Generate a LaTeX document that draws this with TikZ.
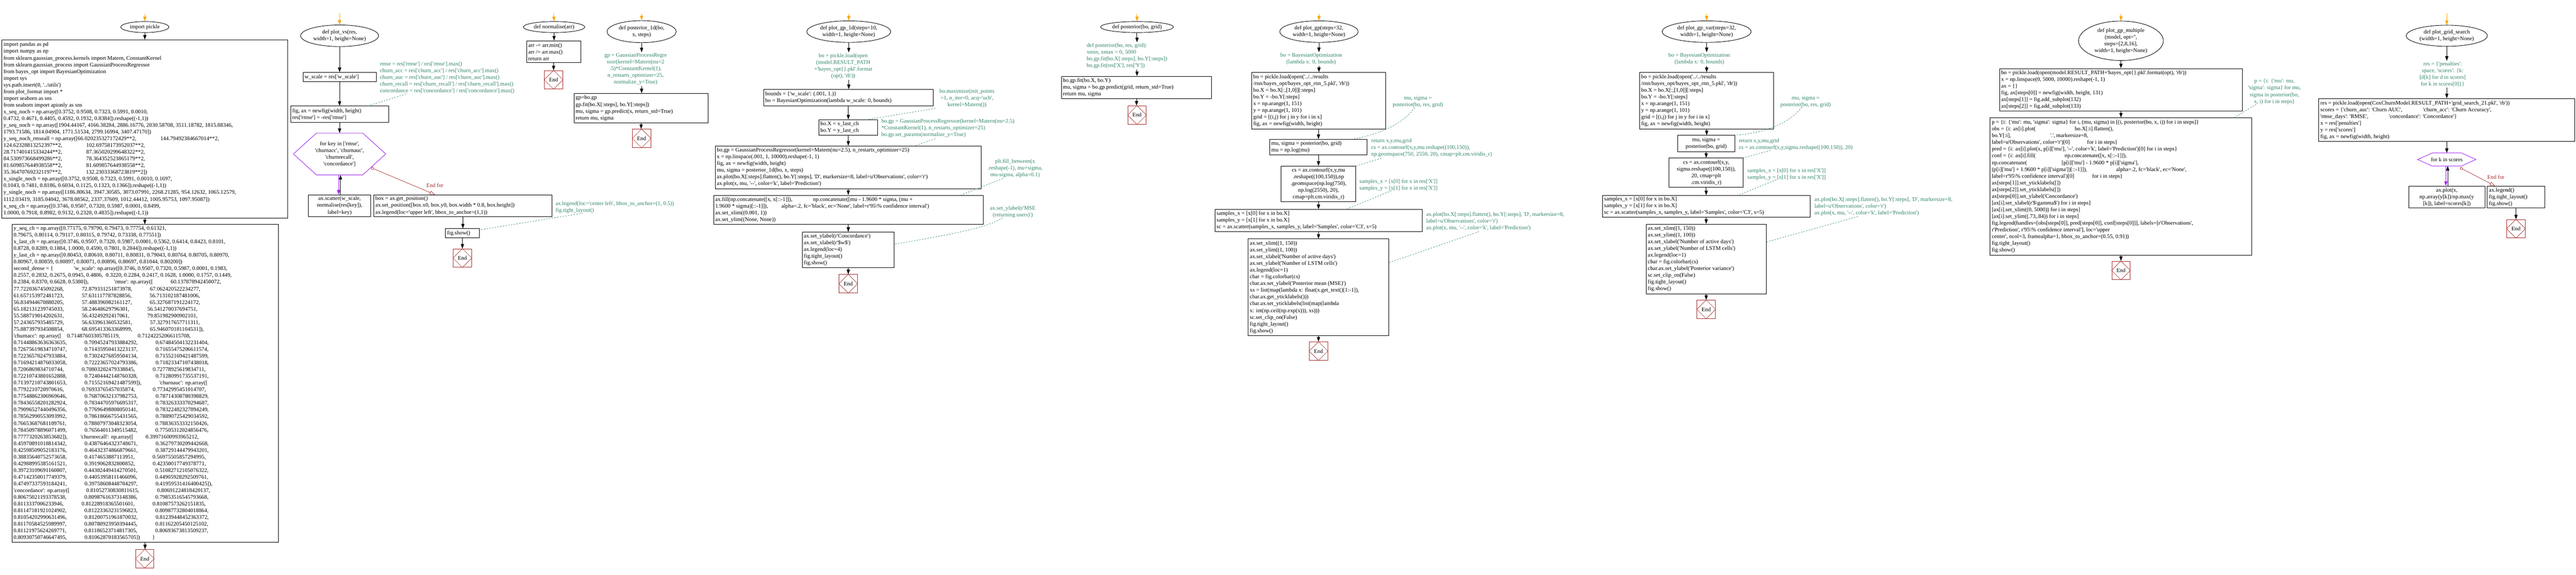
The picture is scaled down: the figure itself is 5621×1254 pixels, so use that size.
\documentclass[tikz,border=0pt]{standalone}
\usepackage{fontspec}
\setmainfont{Liberation Serif}[Ligatures=TeXOff]
\usetikzlibrary{arrows.meta,shapes.geometric,calc}
\definecolor{cmtc}{RGB}{50,135,100}
\definecolor{loopc}{RGB}{160,32,240}
\definecolor{endc}{RGB}{165,42,42}
\definecolor{startc}{RGB}{255,165,0}
\newcommand{\gapx}[1]{\hspace*{#1em}}
\tikzset{
  base/.style={font=\fontsize{12.2pt}{14.67pt}\selectfont},
  bx/.style={draw, rectangle, line width=1pt, inner sep=0pt},
  txt/.style={base, align=left, inner sep=0pt},
  ctxt/.style={base, text=cmtc, inner sep=2pt},
  tip/.style={-{Triangle[length=10pt,width=7pt]}, line width=1pt},
  looptip/.style={loopc, -{Triangle[length=10pt,width=7pt]}, line width=1pt},
  starttip/.style={startc, -{Triangle[length=10pt,width=7pt]}, line width=1pt},
  cl/.style={cmtc, dashed, line width=0.8pt},
  efl/.style={endc, line width=0.8pt, {Circle[open,length=6pt]}-{Triangle[open,length=11pt,width=8pt]}},
}
\newcommand{\boxL}[6]{%
  \node[bx, minimum width=#4pt, minimum height=#5pt] (#1) at (#2,#3) {};
  \node[txt, anchor=west] at ($(#1.west)+(4,0)$) {#6};}
\newcommand{\boxC}[6]{%
  \node[bx, minimum width=#4pt, minimum height=#5pt] (#1) at (#2,#3) {};
  \node[txt, align=center] at (#1.center) {#6};}
\newcommand{\ellN}[6]{%
  \node[draw, ellipse, line width=1pt, inner sep=0pt, minimum width=#4pt, minimum height=#5pt] (#1) at (#2,#3) {};
  \node[txt, align=center] at (#1.center) {#6};}
\newcommand{\hexN}[6]{%
  \node[inner sep=0pt, minimum width=#4pt, minimum height=#5pt] (#1) at (#2,#3) {};
  \draw[loopc, line width=1pt] (#1.west) -- ($(#1.north west)+(#4/4,0)$) -- ($(#1.north east)-(#4/4,0)$) -- (#1.east) -- ($(#1.south east)-(#4/4,0)$) -- ($(#1.south west)+(#4/4,0)$) -- cycle;
  \node[txt, align=center] at (#1.center) {#6};}
\newcommand{\finN}[3]{%
  \node[draw=endc, line width=1pt, inner sep=0pt, minimum width=40pt, minimum height=40pt, base] (#1) at (#2,#3) {End};
  \draw[endc, line width=0.7pt] (#1.north) -- (#1.west) -- (#1.south) -- (#1.east) -- cycle;}
\newcommand{\edg}[2]{\draw[tip] (#1.south) -- (#1.south |- #2.north);}
\newcommand{\edgc}[3]{\draw[tip] (#1.south |- #2.south) -- (#1.south |- #3.north);}
\begin{document}
\begin{tikzpicture}[x=1pt,y=-1pt]
\fill[white] (0,0) rectangle (5621,1254);
\useasboundingbox (0,0) rectangle (5621,1254);

% ---------------- column 1
\ellN{ell0}{316}{59}{105}{24}{import pickle}
\boxL{b01}{316}{281.5}{624}{389}{import pandas as pd\\
import numpy as np\\
from sklearn.gaussian\_process.kernels import Matern, ConstantKernel\\
from sklearn.gaussian\_process import GaussianProcessRegressor\\
from bayes\_opt import BayesianOptimization\\
import sys\\
sys.path.insert(0, '../utils')\\
from plot\_format import *\\
import seaborn as sns\\
from seaborn import apionly as sns\\
x\_seq\_noch = np.array([0.3752, 0.9508, 0.7323, 0.5991, 0.0010,\\
0.4732, 0.4671, 0.4405, 0.4592, 0.1932, 0.8384]).reshape((-1,1))\\
y\_seq\_noch = np.array([1904.44167, 4166.38284, 2886.16776, 2030.58708, 3511.18782, 1815.88346,\\
1793.71586, 1814.04904, 1771.51534, 2799.16994, 3407.47170])\\
y\_seq\_noch\_rmseall = np.array([66.020235327172429**2,\gapx{4.3}144.79492384667014**2,\\
124.62328813252397**2,\gapx{4.3}102.69758173952037**2,\\
28.717401415334244**2,\gapx{4.3}87.365020299648322**2,\\
84.530973668499286**2,\gapx{4.3}78.364352523865179**2,\\
81.609857644938558**2,\gapx{4.3}81.609857644938558**2,\\
35.364707692321197**2,\gapx{4.3}132.23033368723819**2])\\
x\_single\_noch = np.array([0.3752, 0.9508, 0.7323, 0.5991, 0.0010, 0.1697,\\
0.1043, 0.7481, 0.8186, 0.6034, 0.1125, 0.1323, 0.1366]).reshape((-1,1))\\
y\_single\_noch = np.array([1186.80634, 3947.30585, 3073.07991, 2268.21285, 954.12632, 1065.12579,\\
1112.03419, 3185.04042, 3678.08562, 2337.37609, 1012.44412, 1005.95753, 1097.95087])\\
x\_seq\_ch = np.array([0.3746, 0.9507, 0.7320, 0.5987, 0.0001, 0.8499,\\
1.0000, 0.7918, 0.8982, 0.9132, 0.2320, 0.4835]).reshape((-1,1))}
\boxL{b02}{316.5}{836.5}{581}{693}{y\_seq\_ch = np.array([0.77175, 0.79790, 0.79473, 0.77754, 0.61321,\\
0.79675, 0.80114, 0.79117, 0.80315, 0.79742, 0.73338, 0.77551])\\
x\_last\_ch = np.array([0.3746, 0.9507, 0.7320, 0.5987, 0.0001, 0.5362, 0.6414, 0.8423, 0.8101,\\
0.8728, 0.8289, 0.1884, 1.0000, 0.4590, 0.7801, 0.2844]).reshape((-1,1))\\
y\_last\_ch = np.array([0.80453, 0.80610, 0.80711, 0.80831, 0.79043, 0.80764, 0.80705, 0.80970,\\
0.80967, 0.80859, 0.80897, 0.80071, 0.80896, 0.80697, 0.81044, 0.80200])\\
second\_dense = \{\gapx{3.7}'w\_scale': np.array([0.3746, 0.9507, 0.7320, 0.5987, 0.0001, 0.1983,\\
0.2557, 0.2832, 0.2675, 0.0945, 0.4806, \ 0.3220, 0.2284, 0.2417, 0.1628, 1.0000, 0.1757, 0.1449,\\
0.2384, 0.8370, 0.6628, 0.5380]),\gapx{4.6}'rmse': np.array([\gapx{3.2}60.137878942450072,\\
77.722036745092268,\gapx{3.2}72.879331251873978,\gapx{3.2}67.062420522234277,\\
61.657153972481723,\gapx{3.2}57.631117787828856,\gapx{3.2}56.713102187481006,\\
56.834944670880205,\gapx{3.2}57.488396982161127,\gapx{3.2}65.327687191224172,\\
65.182131239745033,\gapx{3.2}58.24648629796301,\gapx{3.2}56.541270037694751,\\
55.588719014202631,\gapx{3.2}56.43249292417061,\gapx{3.2}79.851982900902101,\\
57.243657935485729,\gapx{3.2}56.633961360532581,\gapx{3.2}57.327917657711311,\\
75.887397934508854,\gapx{3.2}68.695413363368999,\gapx{3.2}65.946070181104531]),\\
'churnacc': np.array([\gapx{1}0.71487603305785119,\gapx{3.2}0.71242252066115708,\\
0.71448863636363635,\gapx{3.2}0.70945247933884292,\gapx{3.2}0.67484504132231404,\\
0.72675619834710747,\gapx{3.2}0.71435950413223137,\gapx{3.2}0.71655475206611574,\\
0.72236570247933884,\gapx{3.2}0.73024276859504134,\gapx{3.2}0.71552169421487599,\\
0.71694214876033058,\gapx{3.2}0.72223657024793386,\gapx{3.2}0.71823347107438018,\\
0.7206869834710744,\gapx{3.2}0.70803202479338845,\gapx{3.2}0.72778925619834711,\\
0.72210743801652888,\gapx{3.2}0.72404442148760328,\gapx{3.2}0.71280991735537191,\\
0.71397210743801653,\gapx{3.2}0.71552169421487599]),\gapx{3.2}'churnauc': np.array([\\
0.7792210720970616,\gapx{3.2}0.76933765457035874,\gapx{3.2}0.77342995451014707,\\
0.77548862306969646,\gapx{3.2}0.76870632137982753,\gapx{3.2}0.78714308780398829,\\
0.78436558201282924,\gapx{3.2}0.78344705976695317,\gapx{3.2}0.78326333370294687,\\
0.79096527440496356,\gapx{3.2}0.77696498808050141,\gapx{3.2}0.78322482327894249,\\
0.78562990553093992,\gapx{3.2}0.78618666755431565,\gapx{3.2}0.78890725429034592,\\
0.76653687681109761,\gapx{3.2}0.78807973048323054,\gapx{3.2}0.78836353332150426,\\
0.78450978896071499,\gapx{3.2}0.76564011349515482,\gapx{3.2}0.77505312024856476,\\
0.7777320263853682]),\gapx{2.3}'churnrecall': np.array([\gapx{2.2}0.39971600993965212,\\
0.45970891018814342,\gapx{3.2}0.43876464323748671,\gapx{3.2}0.36279730209442668,\\
0.42598509052183176,\gapx{3.2}0.46432374866879661,\gapx{3.2}0.38729144479943201,\\
0.38835640752573658,\gapx{3.2}0.4174653887113951,\gapx{3.2}0.56975505857294995,\\
0.42988995385161521,\gapx{3.2}0.3919062832800852,\gapx{3.2}0.42350017749378771,\\
0.39723109691160807,\gapx{3.2}0.44302449414270501,\gapx{3.2}0.51082712105076322,\\
0.47142350017749379,\gapx{3.2}0.44053958111466096,\gapx{3.2}0.44905928292509761,\\
0.47497337593184241,\gapx{3.2}0.39758608448704297,\gapx{3.2}0.41959531416400425]),\\
'concordance': np.array([\gapx{3}0.81052730830811615,\gapx{3.2}0.80691224818420137,\\
0.80675021193378538,\gapx{3.2}0.80987616373148386,\gapx{3.2}0.79853516545793668,\\
0.8113337006233946,\gapx{3.2}0.81228918365501601,\gapx{3.2}0.81087573262151835,\\
0.81147181921024902,\gapx{3.2}0.81223363231596823,\gapx{3.2}0.80987732804018864,\\
0.81054202990631496,\gapx{3.2}0.81200751961870032,\gapx{3.2}0.81239448452363372,\\
0.81170584525989997,\gapx{3.2}0.80780923950394445,\gapx{3.2}0.81162205450125102,\\
0.81121975624269771,\gapx{3.2}0.81186523714817305,\gapx{3.2}0.80693673813509237,\\
0.80930750746647495,\gapx{3.2}0.81062870183565705])\gapx{2.2}\}}
\finN{end0}{316}{1219}
\coordinate (st0) at (316,30);
\draw[starttip] (st0) -- (ell0.north);
\edg{ell0}{b01}
\edg{b01}{b02}
\edg{b02}{end0}

% ---------------- plot_vs
\ellN{ell1}{741}{78}{170}{47}{def plot\_vs(res,\\width=1, height=None)}
\boxL{bvs1}{741}{168}{160}{20}{w\_scale = res['w\_scale']}
\node[ctxt, anchor=west, align=left] (cvs1) at (827,170) {rmse = res['rmse'] / res['rmse'].max()\\churn\_acc = res['churn\_acc'] / res['churn\_acc'].max()\\churn\_auc = res['churn\_auc'] / res['churn\_auc'].max()\\churn\_recall = res['churn\_recall'] / res['churn\_recall'].max()\\concordance = res['concordance'] / res['concordance'].max()};
\boxL{bvs2}{741}{249}{214}{35}{fig, ax = newfig(width, height)\\res['rmse'] = -res['rmse']}
\hexN{hvs}{741}{336}{201}{91}{for key in ['rmse',\\'churnacc', 'churnauc',\\'churnrecall',\\'concordance']}
\boxC{bvs3}{741}{449}{136}{48}{ax.scatter(w\_scale,\\normalise(res[key]),\\label=key)}
\boxL{bvs4}{1010}{449}{389}{48}{box = ax.get\_position()\\ax.set\_position([box.x0, box.y0, box.width * 0.8, box.height])\\ax.legend(loc='upper left', bbox\_to\_anchor=(1,1))}
\boxL{bvs5}{1009}{509}{74}{20}{fig.show()}
\node[ctxt, anchor=west, align=left] (cvs2) at (1210,452) {ax.legend(loc='center left', bbox\_to\_anchor=(1, 0.5))\\fig.tight\_layout()};
\finN{endvs}{1009}{563}
\coordinate (st1) at (741,29);
\draw[starttip] (st1) -- (ell1.north);
\edg{ell1}{bvs1}
\edg{bvs1}{bvs2}
\edg{bvs2}{hvs}
\draw[looptip] ($(hvs.south)+(-2,0)$) -- ($(bvs3.north)+(-2,0)$);
\draw[tip] ($(bvs3.north)+(2,0)$) -- ($(hvs.south)+(2,0)$);
\draw[efl] ($(hvs.center)+(69,30)$) -- ($(bvs4.north west)+(134,0)$);
\node[base, text=endc, inner sep=1pt] (efvs) at (949,404) {End for};
\edg{bvs4}{bvs5}
\edg{bvs5}{endvs}
\draw[cl] ($(cvs1.south west)+(59,-2)$) -- ($(bvs2.north)+(62,0)$);
\draw[cl] ($(cvs2.south west)+(62,-2)$) -- ($(bvs5.north east)+(0,3)$);

% ---------------- normalise
\ellN{ell2}{1209}{59}{134}{24}{def normalise(arr)}
\boxL{bn1}{1208}{113}{118}{48}{arr -= arr.min()\\arr /= arr.max()\\return arr}
\finN{endn}{1208}{174}
\coordinate (st2) at (1208,30);
\draw[starttip] (st2) -- (ell2.north);
\edg{ell2}{bn1}
\edg{bn1}{endn}

% ---------------- posterior_1d
\ellN{ell3}{1400}{69}{151}{48}{def posterior\_1d(bo,\\x, steps)}
\node[ctxt, align=center] (cp1) at (1387,151) {gp = GaussianProcessRegre\\ssor(kernel=Matern(nu=2\\.5)*ConstantKernel(1),\\n\_restarts\_optimizer=25,\\normalize\_y=True)};
\boxL{bp1}{1399}{236}{293}{64}{gp=bo.gp\\gp.fit(bo.X[:steps], bo.Y[:steps])\\mu, sigma = gp.predict(x, return\_std=True)\\return mu, sigma}
\finN{endp1}{1400}{302}
\coordinate (st3) at (1400,30);
\draw[starttip] (st3) -- (ell3.north);
\edg{ell3}{cp1}
\edgc{ell3}{cp1}{bp1}
\edg{bp1}{endp1}

% ---------------- plot_gp_1d
\ellN{ell4}{1852}{69}{183}{47}{def plot\_gp\_1d(steps=10,\\width=1, height=None)}
\node[ctxt, align=center] (cg1) at (1840,144) {bo = pickle.load(open\\(model.RESULT\_PATH\\+'bayes\_opt\{\}.pkl'.format\\(opt), 'rb'))};
\boxL{bg1}{1851}{213}{370}{36}{bounds = \{'w\_scale': (.001, 1.)\}\\bo = BayesianOptimization(lambda w\_scale: 0, bounds)}
\node[ctxt, align=center] (cg2) at (2110,215) {bo.maximize(init\_points\\=1, n\_iter=0, acq='ucb',\\kernel=Matern())};
\boxL{bg2}{1851}{278}{129}{34}{bo.X = x\_last\_ch\\bo.Y = y\_last\_ch}
\node[ctxt, anchor=west, align=left] (cg3) at (1921,280) {bo.gp = GaussianProcessRegressor(kernel=Matern(nu=2.5)\\{}*ConstantKernel(1), n\_restarts\_optimizer=25)\\bo.gp.set\_params(normalize\_y=True)};
\boxL{bg3}{1851}{365}{581}{93}{bo.gp = GaussianProcessRegressor(kernel=Matern(nu=2.5), n\_restarts\_optimizer=25)\\x = np.linspace(.001, 1, 10000).reshape(-1, 1)\\fig, ax = newfig(width, height)\\mu, sigma = posterior\_1d(bo, x, steps)\\ax.plot(bo.X[:steps].flatten(), bo.Y[:steps], 'D', markersize=8, label=u'Observations', color='r')\\ax.plot(x, mu, '--', color='k', label='Prediction')}
\node[ctxt, align=center] (cg4) at (2215,367) {plt.fill\_between(x\\.reshape(-1), mu+sigma,\\mu-sigma, alpha=0.1)};
\boxL{bg4}{1851}{458}{588}{64}{ax.fill(np.concatenate([x, x[::-1]]),\gapx{3.7}np.concatenate([mu - 1.9600 * sigma, (mu +\\1.9600 * sigma)[::-1]]),\gapx{2.4}alpha=.2, fc='black', ec='None', label=r'95\textbackslash\% confidence interval')\\ax.set\_xlim((0.001, 1))\\ax.set\_ylim((None, None))}
\node[ctxt, align=center] (cg5) at (2210,463) {ax.set\_ylabel(r'MSE\\(returning users)')};
\boxL{bg5}{1851}{545}{201}{77}{ax.set\_ylabel(r'Concordance')\\ax.set\_xlabel(r'\$w\$')\\ax.legend(loc=4)\\fig.tight\_layout()\\fig.show()}
\finN{endg}{1851}{619}
\coordinate (st4) at (1852,30);
\draw[starttip] (st4) -- (ell4.north);
\edg{ell4}{cg1}
\edgc{ell4}{cg1}{bg1}
\edg{bg1}{bg2}
\edg{bg2}{bg3}
\edg{bg3}{bg4}
\edg{bg4}{bg5}
\edg{bg5}{endg}
\draw[cl] ($(cg2.south)+(-69,-1)$) -- ($(bg2.north)+(44,0)$);
\draw[cl] ($(cg3.south west)+(120,0)$) -- ($(bg3.north)+(146,0)$);
\draw[cl] ($(cg4.south)+(-27,0)$) -- ($(bg4.north)+(246,0)$);
\draw[cl] ($(cg5.south)+(-22,-3)$) .. controls (2150,500) and (2050,515) .. ($(bg5.east)+(0,-12)$);

% ---------------- posterior
\ellN{ell5}{2481}{59}{159}{24}{def posterior(bo, grid)}
\node[ctxt, anchor=west, align=left] (cq1) at (2369,122) {def posterior(bo, res, grid):\\xmin, xmax = 0, 5000\\bo.gp.fit(bo.X[:steps], bo.Y[:steps])\\bo.gp.fit(res['X'], res['Y'])};
\boxL{bq1}{2480}{191}{328}{49}{bo.gp.fit(bo.X, bo.Y)\\mu, sigma = bo.gp.predict(grid, return\_std=True)\\return mu, sigma}
\finN{endq}{2481}{251}
\coordinate (st5) at (2481,30);
\draw[starttip] (st5) -- (ell5.north);
\edg{ell5}{cq1}
\edgc{ell5}{cq1}{bq1}
\edg{bq1}{endq}

% ---------------- plot_gp
\ellN{ell6}{2878}{69}{171}{47}{def plot\_gp(steps=32,\\width=1, height=None)}
\node[ctxt, align=center] (cr1) at (2861,129) {bo = BayesianOptimization\\(lambda x: 0, bounds)};
\boxL{br1}{2877}{220}{292}{124}{bo = pickle.load(open('../../results\\/rnn/bayes\_opt/bayes\_opt\_rnn\_5.pkl', 'rb'))\\bo.X = bo.X[:,[1,0]][:steps]\\bo.Y = -bo.Y[:steps]\\x = np.arange(1, 151)\\y = np.arange(1, 101)\\grid = [(i,j) for j in y for i in x]\\fig, ax = newfig(width, height)}
\node[ctxt, align=center] (cr2) at (3094,222) {mu, sigma =\\posterior(bo, res, grid)};
\boxL{br2}{2877}{321}{213}{34}{mu, sigma = posterior(bo, grid)\\mu = np.log(mu)}
\node[ctxt, anchor=west, align=left] (cr3) at (2990,323) {return x,y,mu,grid\\cs = ax.contourf(x,y,mu.reshape((100,150)),\\np.geomspace(750, 2550, 20), cmap=plt.cm.viridis\_r)};
\boxC{br3}{2877}{401}{163}{77}{cs = ax.contourf(x,y,mu\\.reshape((100,150)),np\\.geomspace(np.log(750),\\np.log(2550), 20),\\cmap=plt.cm.viridis\_r)}
\node[ctxt, anchor=west, align=left] (cr4) at (2964,404) {samples\_x = [x[0] for x in res['X']]\\samples\_y = [x[1] for x in res['X']]};
\boxL{br4}{2877}{481}{452}{48}{samples\_x = [x[0] for x in bo.X]\\samples\_y = [x[1] for x in bo.X]\\sc = ax.scatter(samples\_x, samples\_y, label='Samples', color='C3', s=5)}
\node[ctxt, anchor=west, align=left] (cr5) at (3110,483) {ax.plot(bo.X[:steps].flatten(), bo.Y[:steps], 'D', markersize=8,\\label=u'Observations', color='r')\\ax.plot(x, mu, '--', color='k', label='Prediction')};
\boxL{br5}{2877}{627}{307}{211}{ax.set\_xlim((1, 150))\\ax.set\_ylim((1, 100))\\ax.set\_xlabel('Number of active days')\\ax.set\_ylabel('Number of LSTM cells')\\ax.legend(loc=1)\\cbar = fig.colorbar(cs)\\cbar.ax.set\_ylabel('Posterior mean (MSE)')\\xs = list(map(lambda x: float(x.get\_text()[1:-1]),\\cbar.ax.get\_yticklabels()))\\cbar.ax.set\_yticklabels(list(map(lambda\\x: int(np.ceil(np.exp(x))), xs)))\\sc.set\_clip\_on(False)\\fig.tight\_layout()\\fig.show()}
\finN{endr}{2877}{766}
\coordinate (st6) at (2878,30);
\draw[starttip] (st6) -- (ell6.north);
\edg{ell6}{cr1}
\edgc{ell6}{cr1}{br1}
\edg{br1}{br2}
\edg{br2}{br3}
\edg{br3}{br4}
\edg{br4}{br5}
\edg{br5}{endr}
\draw[cl] ($(cr2.south)+(-7,-2)$) .. controls (3060,272) and (3010,292) .. ($(br2.north)+(77,0)$);
\draw[cl] ($(cr3.south west)+(24,0)$) -- (br3.north east);
\draw[cl] ($(cr4.south west)+(72,-3)$) -- ($(br4.north)+(61,0)$);
\draw[cl] ($(cr5.south west)+(117,0)$) -- ($(br5.east)+(0,-54)$);

% ---------------- plot_gp_var
\ellN{ell7}{3724}{69}{194}{47}{def plot\_gp\_var(steps=32,\\width=1, height=None)}
\node[ctxt, align=center] (cs1) at (3708,129) {bo = BayesianOptimization\\(lambda x: 0, bounds)};
\boxL{bs1}{3724}{220}{293}{124}{bo = pickle.load(open('../../results\\/rnn/bayes\_opt/bayes\_opt\_rnn\_5.pkl', 'rb'))\\bo.X = bo.X[:,[1,0]][:steps]\\bo.Y = -bo.Y[:steps]\\x = np.arange(1, 151)\\y = np.arange(1, 101)\\grid = [(i,j) for j in y for i in x]\\fig, ax = newfig(width, height)}
\node[ctxt, align=center] (cs2) at (3940,222) {mu, sigma =\\posterior(bo, res, grid)};
\boxC{bs2}{3723}{313}{125}{35}{mu, sigma =\\posterior(bo, grid)}
\node[ctxt, anchor=west, align=left] (cs3) at (3792,315) {return x,y,mu,grid\\cs = ax.contourf(x,y,sigma.reshape((100,150)), 20)};
\boxC{bs3}{3723}{377}{162}{64}{cs = ax.contourf(x,y,\\sigma.reshape((100,150)),\\20, cmap=plt\\.cm.viridis\_r)}
\node[ctxt, anchor=west, align=left] (cs4) at (3811,380) {samples\_x = [x[0] for x in res['X']]\\samples\_y = [x[1] for x in res['X']]};
\boxL{bs4}{3723}{450}{453}{47}{samples\_x = [x[0] for x in bo.X]\\samples\_y = [x[1] for x in bo.X]\\sc = ax.scatter(samples\_x, samples\_y, label='Samples', color='C3', s=5)}
\node[ctxt, anchor=west, align=left] (cs5) at (3957,451) {ax.plot(bo.X[:steps].flatten(), bo.Y[:steps], 'D', markersize=8,\\label=u'Observations', color='r')\\ax.plot(x, mu, '--', color='k', label='Prediction')};
\boxL{bs5}{3723}{565}{262}{152}{ax.set\_xlim((1, 150))\\ax.set\_ylim((1, 100))\\ax.set\_xlabel('Number of active days')\\ax.set\_ylabel('Number of LSTM cells')\\ax.legend(loc=1)\\cbar = fig.colorbar(cs)\\cbar.ax.set\_ylabel('Posterior variance')\\sc.set\_clip\_on(False)\\fig.tight\_layout()\\fig.show()}
\finN{ends}{3723}{675}
\coordinate (st7) at (3724,30);
\draw[starttip] (st7) -- (ell7.north);
\edg{ell7}{cs1}
\edgc{ell7}{cs1}{bs1}
\edg{bs1}{bs2}
\edg{bs2}{bs3}
\edg{bs3}{bs4}
\edg{bs4}{bs5}
\edg{bs5}{ends}
\draw[cl] ($(cs2.south)+(-8,-3)$) .. controls (3900,272) and (3850,290) .. (bs2.north east);
\draw[cl] ($(cs3.south west)+(71,-2)$) -- (bs3.north east);
\draw[cl] ($(cs4.south west)+(65,-3)$) -- ($(bs4.north)+(70,0)$);
\draw[cl] ($(cs5.south west)+(97,-1)$) -- ($(bs5.east)+(0,-37)$);

% ---------------- plot_gp_multiple
\ellN{ell8}{4628}{89}{185}{86}{def plot\_gp\_multiple\\(model, opt='',\\steps=[2,8,16],\\width=1, height=None)}
\boxL{bm1}{4628}{196}{530}{93}{bo = pickle.load(open(model.RESULT\_PATH+'bayes\_opt\{\}.pkl'.format(opt), 'rb'))\\x = np.linspace(0, 5000, 10000).reshape(-1, 1)\\ax = \{\}\\fig, ax[steps[0]] = newfig(width, height, 131)\\ax[steps[1]] = fig.add\_subplot(132)\\ax[steps[2]] = fig.add\_subplot(133)}
\node[ctxt, align=center] (cm1) at (4963,200) {p = \{i: \{'mu': mu,\\'sigma': sigma\} for mu,\\sigma in posterior(bo,\\x, i) for i in steps\}};
\boxL{bm2}{4628}{407}{571}{300}{p = \{i: \{'mu': mu, 'sigma': sigma\} for i, (mu, sigma) in [(i, posterior(bo, x, i)) for i in steps]\}\\
obs = \{i: ax[i].plot(\gapx{7}bo.X[:i].flatten(),\\
bo.Y[:i],\gapx{7}'.', markersize=8,\\
label=u'Observations', color='r')[0]\gapx{3.1}for i in steps\}\\
pred = \{i: ax[i].plot(x, p[i]['mu'], '--', color='k', label='Prediction')[0] for i in steps\}\\
conf = \{i: ax[i].fill(\gapx{5.2}np.concatenate([x, x[::-1]]),\\
np.concatenate(\gapx{6.2}[p[i]['mu'] - 1.9600 * p[i]['sigma'],\\
(p[i]['mu'] + 1.9600 * p[i]['sigma'])[::-1]]),\gapx{5.2}alpha=.2, fc='black', ec='None',\\
label=r'95\textbackslash\% confidence interval')[0]\gapx{3.2}for i in steps\}\\
ax[steps[1]].set\_yticklabels([])\\
ax[steps[2]].set\_yticklabels([])\\
ax[steps[0]].set\_ylabel('Concordance')\\
{}[ax[i].set\_xlabel(r'\$\textbackslash gamma\$') for i in steps]\\
{}[ax[i].set\_xlim((0, 5000)) for i in steps]\\
{}[ax[i].set\_ylim((.73,.84)) for i in steps]\\
fig.legend(handles=[obs[steps[0]], pred[steps[0]], conf[steps[0]]], labels=[r'Observations',\\
r'Prediction', r'95\textbackslash\% confidence interval'], loc='upper\\
center', ncol=3, framealpha=1, bbox\_to\_anchor=(0.55, 0.91))\\
fig.tight\_layout()\\
fig.show()}
\finN{endm}{4628}{590}
\coordinate (st8) at (4628,30);
\draw[starttip] (st8) -- (ell8.north);
\edg{ell8}{bm1}
\edg{bm1}{bm2}
\edg{bm2}{endm}
\draw[cl] ($(cm1.south)+(-40,-2)$) -- ($(bm2.north)+(247,0)$);

% ---------------- plot_grid_search
\ellN{ell9}{5339}{78}{177}{46}{def plot\_grid\_search\\(width=1, height=None)}
\node[ctxt, align=center] (ck1) at (5330,162) {res = \{'penalties':\\space, 'scores': \{k:\\{}[d[k] for d in scores]\\for k in scores[0]\}\}};
\boxL{bk1}{5339}{262}{559}{94}{res = pickle.load(open(CoxChurnModel.RESULT\_PATH+'grid\_search\_21.pkl', 'rb'))\\scores = \{'churn\_auc': 'Churn AUC',\gapx{3.7}'churn\_acc': 'Churn Accuracy',\\'rmse\_days': 'RMSE',\gapx{3.7}'concordance': 'Concordance'\}\\x = res['penalties']\\y = res['scores']\\fig, ax = newfig(width, height)}
\hexN{hk}{5339}{348}{127}{28}{for k in scores}
\boxC{bk2}{5339}{430}{166}{48}{ax.plot(x,\\np.array(y[k])/np.max(y\\{}[k]), label=scores[k])}
\boxL{bk3}{5490}{430}{125}{48}{ax.legend()\\fig.tight\_layout()\\fig.show()}
\finN{endk}{5490}{499}
\coordinate (st9) at (5339,29);
\draw[starttip] (st9) -- (ell9.north);
\edg{ell9}{ck1}
\edgc{ell9}{ck1}{bk1}
\edg{bk1}{hk}
\draw[looptip] ($(hk.south)+(-2,0)$) -- ($(bk2.north)+(-2,0)$);
\draw[tip] ($(bk2.north)+(2,0)$) -- ($(hk.south)+(2,0)$);
\draw[efl] ($(hk.center)+(29,18)$) -- ($(bk3.north west)+(17,0)$);
\node[base, text=endc, inner sep=1pt] (efk) at (5446,386) {End for};
\edg{bk3}{endk}
\end{tikzpicture}
\end{document}
